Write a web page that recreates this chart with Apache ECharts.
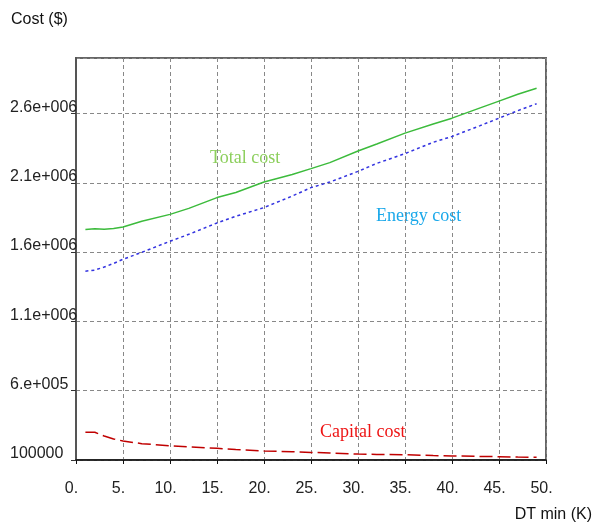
<!DOCTYPE html>
<html>
<head>
<meta charset="utf-8">
<script src="https://cdn.jsdelivr.net/npm/echarts@6/dist/echarts.min.js"></script>
<style>
  html, body { margin: 0; padding: 0; background: #fff; }
  #main { width: 595px; height: 523px; }
</style>
</head>
<body>
<div id="main"></div>
<script>
// DT min (K)
var dtMin = [1, 2, 3, 4, 5, 7, 10, 12, 15, 17, 20, 23, 25, 27, 30, 32, 35, 38, 40, 43, 45, 47, 49];
// costs ($)
var totalCost = [1762000, 1768000, 1764000, 1770000, 1781000, 1822000, 1872000, 1915000, 1993000, 2030000, 2105000, 2160000,
                 2202000, 2245000, 2329000, 2380000, 2458000, 2524000, 2566000, 2640000, 2689000, 2738000, 2782000];
var energyCost = [1462000, 1470000, 1492000, 1518000, 1548000, 1598000, 1678000, 1728000, 1810000, 1858000, 1921000, 2004000,
                  2065000, 2105000, 2182000, 2240000, 2310000, 2392000, 2434000, 2512000, 2566000, 2620000, 2670000];
var capitalCost = [300000, 300000, 273000, 252000, 237000, 218000, 203000, 195000, 184000, 176000, 165000, 160000,
                   155000, 150000, 143000, 140000, 138000, 132000, 129000, 126000, 124000, 121000, 119000];

var yTickVals = [100000, 600000, 1100000, 1600000, 2100000, 2600000];
var yTickLabels = ['100000', '6.e+005', '1.1e+006', '1.6e+006', '2.1e+006', '2.6e+006'];

function pairs(xs, ys) {
    return xs.map(function (x, i) { return [x, ys[i]]; });
}

var chart = echarts.init(document.getElementById('main'));
var sans = 'Liberation Sans, Arial, sans-serif';
var serif = 'Liberation Serif, Times New Roman, serif';

var option = {
    animation: false,
    backgroundColor: '#fff',
    grid: {
        left: 76, right: 49, top: 58, bottom: 63,
        show: true,
        borderColor: '#666',
        borderWidth: 2
    },
    xAxis: {
        type: 'value',
        min: 0, max: 50, interval: 5,
        axisLine: { lineStyle: { color: '#111', width: 1.5 } },
        axisTick: { show: true, length: 4, lineStyle: { color: '#111' } },
        axisLabel: {
            margin: 21,
            fontSize: 16,
            fontFamily: sans,
            color: '#222',
            padding: [0, 9, 0, 0],
            formatter: function (v) { return v + '.'; }
        },
        splitLine: { show: true, lineStyle: { color: '#888', type: [4, 3], width: 1 } }
    },
    yAxis: {
        type: 'value',
        min: 100000, max: 3000000, interval: 500000,
        axisLine: { show: true, lineStyle: { color: '#555', width: 2 } },
        axisTick: { show: true, length: 5, lineStyle: { color: '#333' } },
        axisLabel: {
            margin: 66,
            align: 'left',
            verticalAlign: 'bottom',
            lineHeight: 12,
            fontSize: 16,
            fontFamily: sans,
            color: '#222',
            showMaxLabel: false,
            formatter: function (v) {
                var i = yTickVals.indexOf(v);
                return i >= 0 ? yTickLabels[i] : '';
            }
        },
        splitLine: { show: true, lineStyle: { color: '#888', type: [4, 3], width: 1 } }
    },
    series: [
        {
            name: 'Total cost',
            type: 'line',
            showSymbol: false,
            data: pairs(dtMin, totalCost),
            lineStyle: { color: '#3cbb3c', width: 1.5 }
        },
        {
            name: 'Energy cost',
            type: 'line',
            showSymbol: false,
            data: pairs(dtMin, energyCost),
            lineStyle: { color: '#3333e0', width: 1.5, type: [3, 3] }
        },
        {
            name: 'Capital cost',
            type: 'line',
            showSymbol: false,
            data: pairs(dtMin, capitalCost),
            lineStyle: { color: '#c00000', width: 1.5, type: [13, 5] }
        }
    ],
    graphic: [
        { type: 'text', x: 11, y: 20, style: { text: 'Cost ($)', font: '16px ' + sans, fill: '#111', align: 'left', verticalAlign: 'middle' } },
        { type: 'text', x: 592, y: 515, style: { text: 'DT min (K)', font: '16px ' + sans, fill: '#111', align: 'right', verticalAlign: 'middle' } },
        { type: 'text', x: 210, y: 158, style: { text: 'Total cost', font: '18px ' + serif, fill: '#8ccf5c', align: 'left', verticalAlign: 'middle' } },
        { type: 'text', x: 376, y: 216, style: { text: 'Energy cost', font: '18px ' + serif, fill: '#1aa8ea', align: 'left', verticalAlign: 'middle' } },
        { type: 'text', x: 320, y: 432, style: { text: 'Capital cost', font: '18px ' + serif, fill: '#ee1515', align: 'left', verticalAlign: 'middle' } }
    ]
};

chart.setOption(option);
</script>
</body>
</html>
